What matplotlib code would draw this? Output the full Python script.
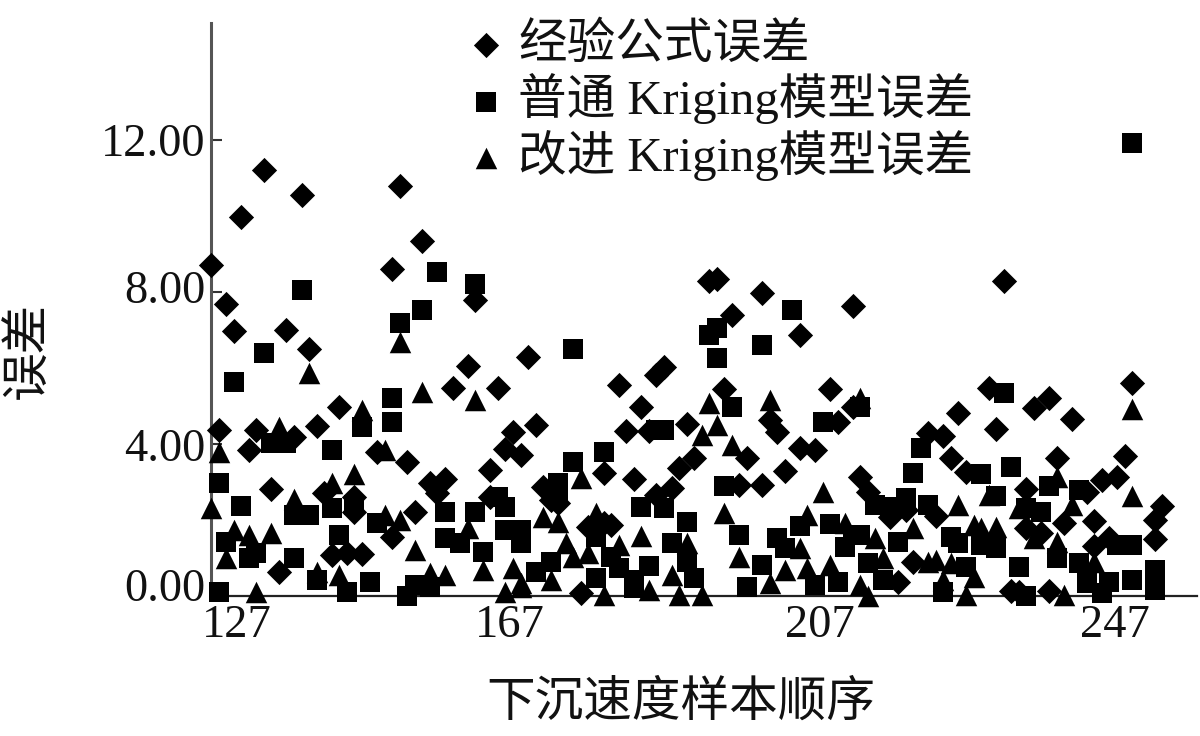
import matplotlib
matplotlib.use("Agg")
import matplotlib.pyplot as plt
from matplotlib.transforms import ScaledTranslation

FONT = ['Liberation Serif', 'Noto Sans CJK SC']
plt.rcParams['font.family'] = FONT

series_names = ['经验公式误差', '普通 Kriging模型误差', '改进 Kriging模型误差']
x_label = '下沉速度样本顺序'
y_label = '误差'
x_ticks = [127, 167, 207, 247]
y_ticks = [0, 4, 8, 12]
y_tick_labels = ['0.00', '4.00', '8.00', '12.00']

empirical_x = [127,128,129,130,131,132,133,134,135,136,137,138,139,140,141,142,143,144,145,146,146,147,149,151,151,152,153,154,155,156,157,158,159,161,162,164,164,165,166,167,168,169,170,171,172,173,176,177,179,179,180,181,182,183,184,185,186,187,186,188,189,190,191,193,194,195,196,197,198,200,200,201,202,203,205,205,207,209,210,212,212,213,214,217,218,219,220,222,223,224,225,226,227,230,231,232,233,234,235,235,236,237,238,238,239,240,241,243,244,244,245,246,247,248,249,252,252,253]
empirical_y = [8.71,4.37,7.68,6.97,9.97,3.84,4.37,11.21,2.82,0.63,7.0,4.18,10.55,6.5,4.47,2.71,1.08,4.97,1.13,2.61,2.21,1.11,3.79,8.61,1.55,10.79,3.53,2.21,9.34,2.97,2.71,3.08,5.47,6.05,7.79,3.32,2.61,5.47,3.87,4.32,3.71,6.29,4.5,2.87,2.53,2.45,0.08,1.82,1.92,3.24,1.87,5.55,4.34,3.08,4.97,4.34,5.82,6.03,2.66,2.84,3.37,4.53,3.63,8.29,8.34,5.45,7.39,2.92,3.63,2.92,7.97,4.63,4.32,3.29,6.87,3.89,3.84,5.45,4.58,7.63,4.97,3.13,2.74,2.08,0.37,2.26,0.89,4.29,2.11,4.21,3.63,4.82,3.26,5.47,4.39,8.29,0.13,0.11,2.82,1.79,4.95,1.66,5.21,0.13,3.63,1.92,4.66,2.74,1.97,1.32,3.05,1.53,3.13,3.68,5.61,2.0,1.5,2.37]

ordinary_x = [128,128,129,130,131,132,133,134,135,137,138,138,139,140,141,143,143,144,145,146,147,148,149,151,151,152,153,154,155,156,157,158,158,160,162,162,163,165,166,166,168,168,170,172,173,173,175,175,178,178,179,180,181,183,183,184,185,186,187,187,188,190,190,191,193,194,194,195,196,197,198,200,200,202,203,204,205,207,208,209,210,211,212,213,213,214,215,216,217,218,219,220,221,222,224,225,226,227,229,229,231,231,232,233,234,235,235,237,238,239,242,242,243,245,246,247,249,249,249,252,252]
ordinary_y = [0.11,2.97,1.42,5.63,2.37,1.0,1.13,6.39,4.03,4.03,1.0,2.13,8.05,2.13,0.42,3.84,2.32,1.61,0.11,2.39,4.45,0.37,1.92,4.58,5.21,7.18,0.0,0.29,7.53,0.24,8.53,2.21,1.53,1.39,2.21,8.21,1.16,2.61,2.34,1.74,1.39,1.74,0.63,0.89,2.97,2.66,3.53,6.5,0.47,1.55,3.79,1.03,0.74,0.42,0.21,2.34,0.79,4.37,4.37,2.32,1.39,0.89,1.95,0.47,6.87,7.05,6.26,2.89,4.97,1.61,0.24,0.82,6.61,1.53,1.26,7.53,1.84,0.29,4.58,1.89,0.37,1.29,1.61,4.97,1.61,0.87,2.39,0.42,2.34,1.42,2.58,3.24,3.89,2.39,0.11,1.55,1.39,0.76,1.34,3.21,1.26,2.63,5.34,3.39,0.76,0.0,2.32,2.21,2.89,1.0,0.87,2.79,0.34,0.08,0.37,1.34,11.92,0.42,1.34,0.68,0.16]

improved_x = [127,128,129,130,132,133,135,136,138,140,141,143,144,146,147,150,150,152,152,154,155,156,158,161,162,163,166,167,168,168,171,172,173,174,175,176,177,178,179,181,184,185,188,189,190,192,192,193,194,195,196,197,201,201,203,205,206,206,208,209,211,213,213,214,215,216,220,222,223,224,225,226,227,228,228,229,230,231,234,236,239,239,240,241,244,249,249]
improved_y = [2.32,3.79,1.0,1.74,1.61,0.11,1.66,4.45,2.55,5.87,0.63,2.97,0.55,3.21,4.89,2.13,3.84,6.68,2.0,1.21,5.37,0.61,0.55,1.79,5.16,0.68,0.11,0.74,0.34,0.24,2.08,0.42,1.95,1.39,1.03,3.11,1.13,2.18,0.03,1.34,1.58,0.16,0.55,0.03,1.39,0.03,4.24,5.08,4.5,2.18,3.97,1.03,5.16,0.34,0.68,1.26,2.13,0.74,2.74,0.82,1.92,5.21,0.29,0.0,1.53,1.0,1.79,0.89,0.95,0.42,0.87,2.39,0.03,1.87,0.5,1.79,2.66,1.82,2.32,1.53,3.13,1.42,0.03,2.39,0.89,4.92,2.63]

W, H = 1200, 736
fig = plt.figure(figsize=(W / 100, H / 100), dpi=100, facecolor='white')
ax = fig.add_axes([211 / W, 1 - 596 / H, (1197 - 211) / W, (596 - 23) / H])
ax.set_xlim(127, 257.6)
ax.set_ylim(0, 15.08)

common = dict(color='black', linewidths=0, clip_on=False, zorder=3)
h1 = ax.scatter(empirical_x, empirical_y, marker='D', s=165, label=series_names[0], **common)
h2 = ax.scatter(ordinary_x, ordinary_y, marker='s', s=225, label=series_names[1], **common)
h3 = ax.scatter(improved_x, improved_y, marker='^', s=240, label=series_names[2], **common)

for side in ('top', 'right'):
    ax.spines[side].set_visible(False)
ax.spines['left'].set_linewidth(2.2)
ax.spines['left'].set_color('#555555')
ax.spines['bottom'].set_linewidth(1.6)
ax.spines['bottom'].set_color('#222222')

ax.set_yticks(y_ticks)
ax.set_yticklabels(y_tick_labels, fontsize=33.5, color='#111111')
ax.tick_params(axis='y', direction='in', length=8, width=1.5, pad=4, color='#333333')
ax.set_xticks(x_ticks)
ax.set_xticklabels([str(v) for v in x_ticks], fontsize=33.5, color='#111111')
ax.tick_params(axis='x', length=0, pad=6)

# the first labels sit beside the axis corner instead of on their ticks
offsets_x = [26, -3, 5, -2]
for lab, dx in zip(ax.get_xticklabels(), offsets_x):
    lab.set_transform(lab.get_transform() + ScaledTranslation(dx / 100, 0, fig.dpi_scale_trans))
offsets_y = [11, -1, 5, 0]
for lab, dy in zip(ax.get_yticklabels(), offsets_y):
    lab.set_transform(lab.get_transform() + ScaledTranslation(0, dy / 100, fig.dpi_scale_trans))

fig.text(681 / W, 1 - 703 / H, x_label, fontsize=35, ha='center', va='center', color='#111111')
fig.text(29 / W, 1 - 350 / H, y_label, fontsize=35, rotation=90, ha='center', va='center', color='#111111')

leg = ax.legend(handles=[h1, h2, h3], loc='upper left', bbox_to_anchor=(457 / W, 1 - 22 / H),
                bbox_transform=fig.transFigure, frameon=False, fontsize=35,
                handletextpad=0.06, labelspacing=0.12, borderpad=0, borderaxespad=0,
                handlelength=1.2, labelcolor='#111111')

fig.savefig('out.png', dpi=100, facecolor='white')
